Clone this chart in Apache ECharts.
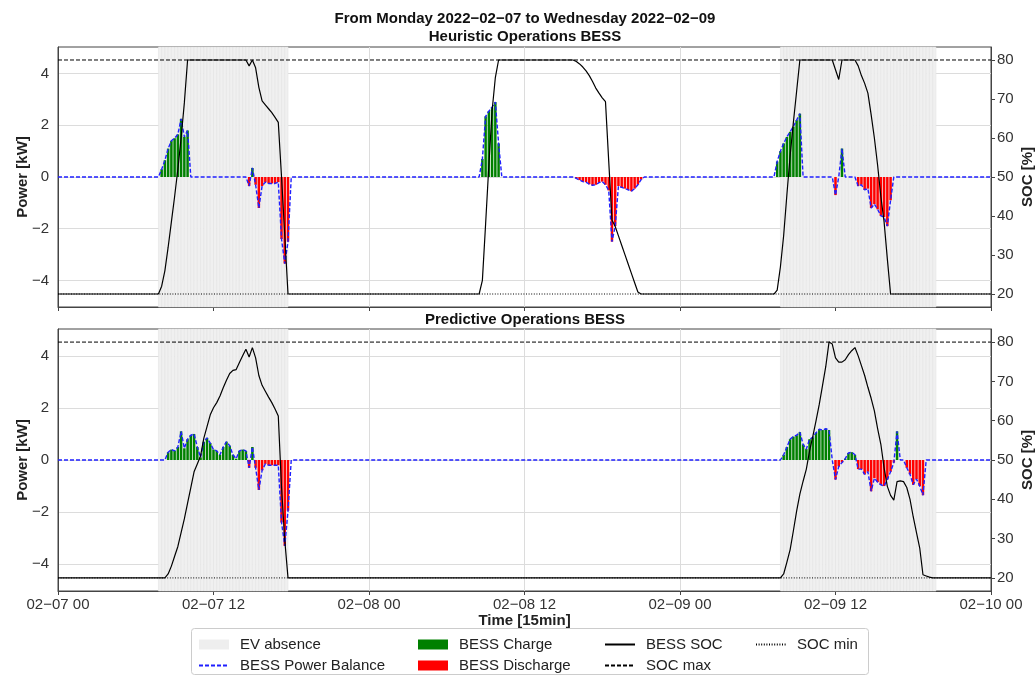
<!DOCTYPE html>
<html><head><meta charset="utf-8">
<script src="https://cdn.jsdelivr.net/npm/echarts@6/dist/echarts.min.js"></script>
<style>html,body{margin:0;padding:0;background:#fff}#c{width:1035px;height:675px}</style>
</head><body><div id="c"></div>
<script>
// ---------- data ----------
const xTickLabels = ['02\u221207 00','02\u221207 12','02\u221208 00','02\u221208 12','02\u221209 00','02\u221209 12','02\u221210 00'];
const powerTicks = [-4, -2, 0, 2, 4];
const socTicks = [20, 30, 40, 50, 60, 70, 80];
const socMax = 80, socMin = 20;
// EV absence windows (hours from 02-07 00:00)
const evAbsence = [[7.75, 17.75], [55.75, 67.75]];

// Heuristic BESS power balance: [start hour, consecutive 15-min values in kW]; all other slots are 0
const heuristicPower = [
  [8.0,  [0.3, 0.65, 1.1, 1.4, 1.5, 1.65, 2.25, 1.55, 1.8]],
  [14.75,[-0.35, 0.35, -0.3, -1.2, -0.35, -0.2, -0.25, -0.25, -0.25, -0.2, -2.4, -3.35, -2.5]],
  [32.75,[0.7, 2.35, 2.55, 2.7, 2.9, 1.3]],
  [40.0, [-0.05, -0.12, -0.18, -0.2, -0.28, -0.32, -0.3, -0.22, -0.18, -0.3, -0.52, -2.5, -1.9, -0.35, -0.4, -0.45, -0.5, -0.55, -0.45, -0.3, -0.1]],
  [55.5, [0.6, 1.0, 1.3, 1.55, 1.75, 1.95, 2.2, 2.45]],
  [60.0, [-0.7, 0, 1.1]],
  [61.75,[-0.35, -0.3, -0.5, -0.45, -1.2, -1.05, -1.25, -1.5, -1.55, -1.9, -0.9]]
];
// Predictive BESS power balance
const predictivePower = [
  [8.5,  [0.3, 0.4, 0.35, 0.5, 1.1, 0.45, 0.8, 0.95, 1.0, 0.5, 0.1, 0.7, 0.85, 0.65, 0.4, 0.35, 0.2, 0.5, 0.7, 0.55, 0.2, 0.05, 0.35, 0.4, 0.35, -0.3, 0.5, -0.3, -1.15, -0.4, -0.15, -0.2, -0.2, -0.2, -0.2, -2.4, -3.3, -1.95]],
  [56.0, [0.2, 0.5, 0.8, 0.9, 0.95, 1.07, 0.6, 0.42, 0.8, 0.87, 1.05, 1.18, 1.15, 1.2, 1.15, 0, -0.75, -0.25, -0.1, 0.05, 0.27, 0.3, 0.2, -0.35, -0.35, -0.55, -0.45, -1.2, -0.7, -0.85, -0.95, -1.0, -0.75, -0.45, -0.1, 1.1, 0, 0, -0.3, -0.55, -0.95, -0.73, -1.0, -1.35]]
];
// SOC [%] breakpoints [hour, value]
const heuristicSoc = [
  [0,20],[7.75,20],[8.0,22],[8.25,26],[8.5,32],[8.75,38.5],[9.0,45],[9.25,52],[9.5,60],[9.75,69],[10.0,80],
  [14.5,80],[14.75,78.5],[15.0,80],[15.25,78],[15.5,73],[15.75,69.5],[16.0,68.5],[16.25,67.5],[16.5,66.5],[16.75,65.3],[17.0,64],[17.25,50],[17.5,35],[17.75,20],
  [32.5,20],[32.75,23.5],[33.0,38],[33.25,53],[33.5,67],[33.75,75.5],[34.0,80],
  [39.75,80],[40.0,79.6],[40.25,79],[40.5,78.2],[40.75,77.2],[41.0,76],[41.25,74.5],[41.5,72.8],[41.75,71.5],[42.0,70.3],[42.25,69.3],[42.5,54],[42.75,39],[43.0,37.3],[43.25,34.9],[43.5,32.5],[43.75,30.1],[44.0,27.7],[44.25,25.3],[44.5,22.9],[44.75,20.5],[45.0,20],
  [55.25,20],[55.5,21],[55.75,27],[56.0,35],[56.25,45.5],[56.5,55.5],[56.75,64],[57.0,72],[57.25,80],
  [59.75,80],[60.0,77.5],[60.25,75],[60.5,80],[61.5,80],[61.75,78.5],[62.0,76],[62.25,74],[62.5,71.5],[62.75,66],[63.0,60],[63.25,53],[63.5,45],[63.75,38.5],[64.0,29],[64.25,20],
  [72,20]
];
const predictiveSoc = [
  [0,20],[8.25,20],[8.5,21],[8.75,23],[9.0,25.5],[9.25,28],[9.5,31.5],[9.75,35],[10.0,39],[10.25,43],[10.5,47],[10.75,49],[11.0,51],
  [11.25,55.5],[11.5,58.5],[11.75,61.5],[12.0,63.3],[12.25,64.6],[12.5,66.3],[12.75,68.4],[13.0,70.3],[13.25,72],[13.5,72.8],[13.75,73],
  [14.0,74.8],[14.25,76.5],[14.5,78.2],[14.75,76.2],[15.0,78.6],[15.25,76],[15.5,71.5],[15.75,69],[16.0,67.5],[16.25,66],[16.5,64.6],[16.75,63],[17.0,61.2],[17.25,43],[17.5,29.6],[17.75,20],
  [55.75,20],[56.0,21],[56.25,24],[56.5,27.2],[56.75,32],[57.0,37],[57.25,41.3],[57.5,44.6],[57.75,47.7],[58.0,52.3],[58.25,56],[58.5,60],[58.75,64.2],[59.0,69],[59.25,73.8],[59.5,80],[59.75,79.5],
  [60.0,76],[60.25,74.9],[60.5,74.9],[60.75,75.5],[61.0,76.8],[61.25,77.8],[61.5,78.6],[61.75,76.5],[62.0,74],[62.25,71.5],[62.5,68.5],[62.75,65.7],[63.0,62.5],[63.25,58],[63.5,54],[63.75,48],[64.0,43.3],[64.25,41],[64.5,39.8],
  [64.75,44.5],[65.0,44.7],[65.25,44.5],[65.5,43],[65.75,40],[66.0,35.5],[66.25,31.5],[66.5,27.6],[66.75,20.8],[67.0,20.5],[67.25,20.2],[67.5,20],[72,20]
];

// ---------- build ----------
const FONT = '"Liberation Sans", Arial, sans-serif';
const HOURS = 72, STEP = 0.25;
function expand(segs){
  const m = {};
  segs.forEach(([s, vals]) => vals.forEach((v, i) => { m[Math.round((s + i*STEP)/STEP)] = v; }));
  const out = [];
  for (let k = 0; k <= HOURS/STEP; k++) out.push([k*STEP, m[k] !== undefined ? m[k] : 0]);
  return out;
}
function evSlots(){
  const d = [];
  evAbsence.forEach(([a,b]) => { for (let t = a; t < b - 1e-9; t += STEP) d.push([{xAxis:t},{xAxis:t+STEP}]); });
  return d;
}
const minus = v => String(v).replace('-', '\u2212');

const grids = [
  {left:58, top:47, width:933, height:260},
  {left:58, top:329, width:933, height:262}
];
const xAxes = grids.map((g, i) => ({
  type:'value', gridIndex:i, min:0, max:HOURS, interval:12,
  axisLine:{show:true, onZero:false, lineStyle:{color:'#444', width:1}},
  axisTick:{show:true, length:4, inside:false, lineStyle:{color:'#444'}},
  axisLabel:{show:i===1, margin:6, fontFamily:FONT, fontSize:15, color:'#333', formatter: v => xTickLabels[Math.round(v/12)]},
  splitLine:{show:true, lineStyle:{color:'#dcdcdc', width:1}},
  name: i===1 ? 'Time [15min]' : '', nameLocation:'middle', nameGap:22, nameMoveOverlap:false,
  nameTextStyle:{fontFamily:FONT, fontSize:15, fontWeight:'bold', color:'#222'}
}));
const yAxes = [];
grids.forEach((g, i) => {
  yAxes.push({
    type:'value', gridIndex:i, position:'left', min:-5.03, max:5.03,
    axisLine:{show:true, onZero:false, lineStyle:{color:'#444'}},
    axisTick:{show:false, customValues:powerTicks},
    axisLabel:{customValues:powerTicks, margin:9, fontFamily:FONT, fontSize:15, color:'#333', formatter: minus},
    splitLine:{show:true, lineStyle:{color:'#dcdcdc', width:1}},
    name:'Power [kW]', nameLocation:'middle', nameRotate:90, nameGap:28, nameMoveOverlap:false,
    nameTextStyle:{fontFamily:FONT, fontSize:15, fontWeight:'bold', color:'#222'}
  });
  yAxes.push({
    type:'value', gridIndex:i, position:'right', min:16.67, max:83.33,
    axisLine:{show:true, onZero:false, lineStyle:{color:'#444'}},
    axisTick:{show:true, length:4, customValues:socTicks, lineStyle:{color:'#444'}},
    axisLabel:{customValues:socTicks, margin:6, fontFamily:FONT, fontSize:15, color:'#333'},
    splitLine:{show:false},
    name:'SOC [%]', nameLocation:'middle', nameRotate:90, nameGap:29, nameMoveOverlap:false,
    nameTextStyle:{fontFamily:FONT, fontSize:15, fontWeight:'bold', color:'#222'}
  });
});

const series = [];
[[heuristicPower, heuristicSoc], [predictivePower, predictiveSoc]].forEach(([pw, soc], i) => {
  const full = expand(pw);
  const pAx = i*2, sAx = i*2+1;
  series.push({
    name:'EV absence', type:'line', xAxisIndex:i, yAxisIndex:pAx, data:[], z:-1, silent:true,
    itemStyle:{color:'#eeeeee'}, lineStyle:{color:'#eeeeee'},
    markArea:{silent:true, itemStyle:{color:'#f0f0f0', borderColor:'#e4e4e4', borderWidth:0.6}, data:evSlots()}
  });
  series.push({
    name:'BESS Charge', type:'bar', xAxisIndex:i, yAxisIndex:pAx, stack:'p'+i, barWidth:2.5,
    itemStyle:{color:'#008000'}, data: full.filter(d => d[1] > 0), z:2
  });
  series.push({
    name:'BESS Discharge', type:'bar', xAxisIndex:i, yAxisIndex:pAx, stack:'p'+i, barWidth:2.5,
    itemStyle:{color:'#ff0000'}, data: full.filter(d => d[1] < 0), z:2
  });
  series.push({
    name:'BESS SOC', type:'line', xAxisIndex:i, yAxisIndex:sAx, symbol:'none', z:4,
    lineStyle:{color:'#000', width:1.2}, itemStyle:{color:'#000'}, data: soc
  });
  series.push({
    name:'SOC max', type:'line', xAxisIndex:i, yAxisIndex:sAx, symbol:'none', z:4,
    lineStyle:{color:'#000', width:1, type:[4,2]}, itemStyle:{color:'#000'}, data: [[0, socMax],[HOURS, socMax]]
  });
  series.push({
    name:'SOC min', type:'line', xAxisIndex:i, yAxisIndex:sAx, symbol:'none', z:4,
    lineStyle:{color:'#000', width:1, type:[1,1.6]}, itemStyle:{color:'#000'}, data: [[0, socMin],[HOURS, socMin]]
  });
  series.push({
    name:'BESS Power Balance', type:'line', xAxisIndex:i, yAxisIndex:pAx, symbol:'none', z:3,
    lineStyle:{color:'#1f1fff', width:1.4, type:[4,2]}, itemStyle:{color:'#1f1fff'}, data: full
  });
});

const noSym = {opacity:0};
const legendBase = {orient:'vertical', top:637, height:60, itemWidth:30, itemHeight:10, itemGap:6, selectedMode:false, padding:0,
  textStyle:{fontFamily:FONT, fontSize:15, color:'#222', padding:[0,0,0,6]}};
const titleStyle = {fontFamily:FONT, fontSize:15, fontWeight:'bold', color:'#111'};

const option = {
  animation:false,
  backgroundColor:'#fff',
  title:[
    {text:'From Monday 2022\u221202\u221207 to Wednesday 2022\u221202\u221209', left:525, textAlign:'center', top:11, textStyle:titleStyle, padding:0},
    {text:'Heuristic Operations BESS', left:525, textAlign:'center', top:29, textStyle:titleStyle, padding:0},
    {text:'Predictive Operations BESS', left:525, textAlign:'center', top:312, textStyle:titleStyle, padding:0}
  ],
  grid: grids.map(g => Object.assign({show:true, borderColor:'#444', borderWidth:1, backgroundColor:'transparent', outerBoundsMode:'none', containLabel:false}, g)),
  xAxis: xAxes,
  yAxis: yAxes,
  legend:[
    Object.assign({}, legendBase, {left:198, data:[{name:'EV absence', icon:'rect', itemStyle:{color:'#eeeeee'}}, {name:'BESS Power Balance', itemStyle:noSym}]}),
    Object.assign({}, legendBase, {left:418, data:[{name:'BESS Charge', icon:'rect'}, {name:'BESS Discharge', icon:'rect'}]}),
    Object.assign({}, legendBase, {left:604, data:[{name:'BESS SOC', itemStyle:noSym}, {name:'SOC max', itemStyle:noSym}]}),
    Object.assign({}, legendBase, {left:755, data:[{name:'SOC min', itemStyle:noSym}]})
  ],
  graphic:[{type:'rect', left:191, top:628, z:-10, shape:{width:677, height:46, r:3}, style:{fill:'#fff', stroke:'#cccccc', lineWidth:1}}],
  series: series
};
const chart = echarts.init(document.getElementById('c'), null, {renderer:'canvas'});
chart.setOption(option);
</script></body></html>
